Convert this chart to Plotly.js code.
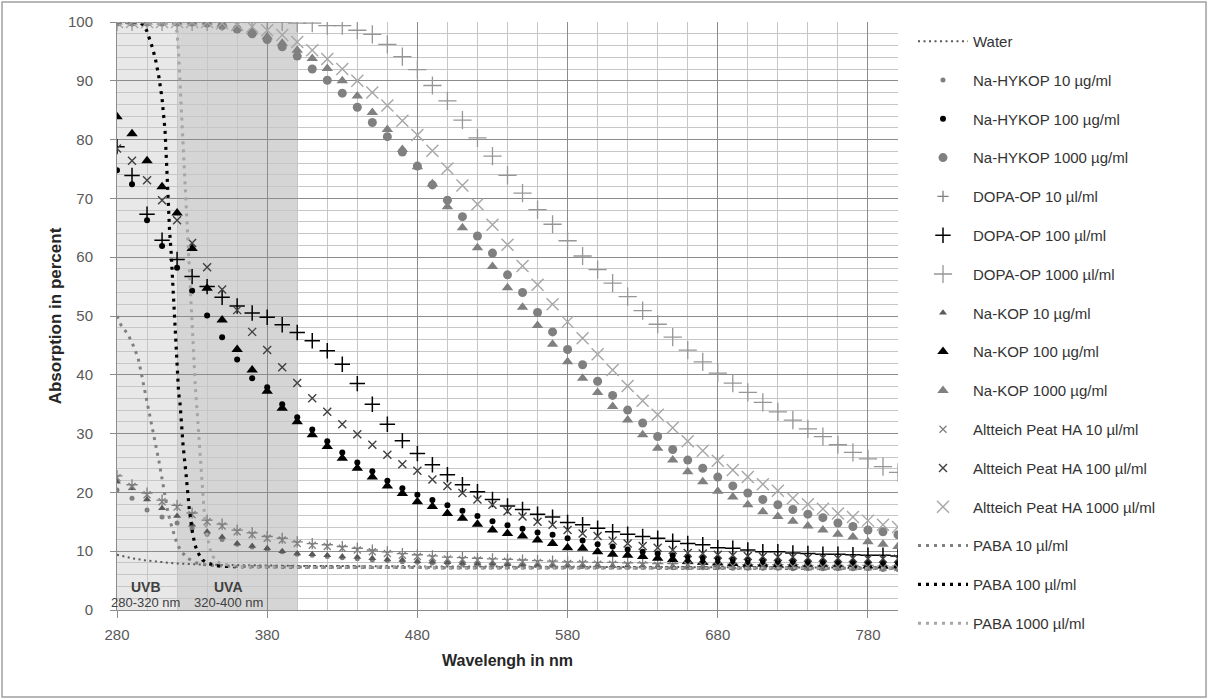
<!DOCTYPE html>
<html><head><meta charset="utf-8">
<script src="https://cdn.plot.ly/plotly-3.0.1.min.js"></script>
<style>html,body{margin:0;padding:0;background:#fff}#chart{width:1211px;height:699px}</style>
</head><body><div id="chart"></div>
<script>
// ---- data ----
const wavelength = [280,290,300,310,320,330,340,350,360,370,380,390,400,410,420,430,440,450,460,470,480,490,500,510,520,530,540,550,560,570,580,590,600,610,620,630,640,650,660,670,680,690,700,710,720,730,740,750,760,770,780,790,800];

const naHykop10 = [20.4,19.0,17.0,15.8,14.8,13.9,12.9,12.0,11.2,10.7,10.3,9.9,9.5,9.3,9.1,8.9,8.7,8.5,8.4,8.2,8.1,8.0,7.9,7.8,7.8,7.7,7.7,7.6,7.6,7.5,7.5,7.4,7.4,7.4,7.3,7.3,7.3,7.2,7.2,7.2,7.2,7.1,7.1,7.1,7.1,7.0,7.0,7.0,7.0,7.0,7.0,6.9,6.9];
const naHykop100 = [74.8,72.4,66.3,61.9,58.2,54.3,50.1,46.4,42.6,39.4,37.9,35.0,32.8,30.7,28.7,26.8,25.1,23.6,22.0,20.7,19.6,18.7,17.8,16.9,16.0,15.1,14.4,13.8,13.2,12.8,12.2,11.8,11.2,10.8,10.3,9.9,9.6,9.3,9.1,8.9,8.7,8.6,8.5,8.4,8.3,8.3,8.2,8.2,8.1,8.1,8.0,8.0,8.0];
const naHykop1000 = [100,100,100,100,100,100,99.8,99.4,98.8,98.0,97.0,95.8,94.2,92.0,90.1,87.9,85.5,82.9,80.5,77.9,75.5,72.3,69.7,66.9,63.6,60.7,57.0,54.0,50.6,47.3,44.3,41.7,38.9,36.5,34.0,31.8,29.5,27.3,25.5,24.1,22.6,21.1,19.9,18.8,17.9,17.1,16.3,15.7,14.8,14.2,13.6,13.3,12.8];

const dopa10 = [22.8,21.3,19.9,18.7,17.8,16.5,15.3,14.6,13.6,13.1,12.5,12.2,11.6,11.3,11.1,10.8,10.5,10.2,9.9,9.6,9.4,9.2,9.0,8.9,8.8,8.7,8.6,8.5,8.4,8.3,8.2,8.2,8.1,8.1,8.0,8.0,7.9,7.9,7.9,7.8,7.8,7.8,7.7,7.7,7.7,7.7,7.6,7.6,7.6,7.6,7.6,7.5,7.5];
const dopa100 = [78.8,73.9,67.3,62.9,59.6,56.7,55.0,53.2,51.7,50.5,49.8,48.5,47.2,45.8,44.1,41.8,38.5,35.0,31.6,28.8,26.6,24.7,23.0,21.3,20.1,18.8,17.7,17.1,16.3,15.8,14.9,14.5,13.9,13.3,12.9,12.5,12.2,11.7,11.3,11.1,10.6,10.5,10.2,9.9,9.9,9.7,9.6,9.5,9.5,9.4,9.3,9.3,9.2];
const dopa1000 = [100,100,100,100,100,100,100,100,100,100,100,100,99.8,99.8,99.4,99.4,98.6,97.9,96.2,94.1,91.9,89.2,86.6,83.3,80.3,77.2,73.9,70.9,68.1,65.6,62.8,60.2,57.9,55.6,53.3,50.9,48.6,46.4,44.2,42.2,40.3,38.6,37.0,35.3,33.7,32.3,30.8,29.5,28.1,26.8,25.7,24.4,23.4];

const naKop10 = [21.8,20.7,18.8,17.3,16.0,14.5,13.3,12.4,11.3,10.9,10.5,10.0,9.6,9.5,9.3,9.1,9.0,8.8,8.6,8.5,8.3,8.2,8.1,8.0,7.9,7.9,7.8,7.8,7.7,7.7,7.6,7.6,7.6,7.5,7.5,7.5,7.4,7.4,7.4,7.4,7.3,7.3,7.3,7.3,7.3,7.2,7.2,7.2,7.2,7.2,7.2,7.2,7.1];
const naKop100 = [83.9,81.0,76.4,72.0,67.5,61.5,54.7,49.3,44.3,40.8,37.2,34.3,32.0,29.8,27.8,25.8,24.1,22.6,21.1,19.8,18.4,17.6,16.4,15.6,14.6,13.6,13.0,12.6,11.9,11.3,10.6,10.5,9.9,9.5,9.3,9.1,8.8,8.6,8.3,8.1,8.0,7.9,7.8,7.8,7.7,7.7,7.6,7.6,7.6,7.5,7.5,7.5,7.5];
const naKop1000 = [100,100,100,100,100,100,100,99.6,99.0,98.3,97.5,96.4,95.2,93.8,92.1,90.0,87.4,84.6,81.7,78.3,75.4,72.5,68.6,65.0,61.6,58.4,54.8,51.5,48.4,45.2,42.2,39.4,37.0,34.6,32.3,29.8,27.5,25.5,23.5,21.8,20.2,19.2,17.9,16.7,15.9,15.1,14.3,13.6,12.9,12.4,11.6,11.2,10.8];

const alt10 = [22.5,21.0,19.6,18.4,17.5,16.2,15.0,14.3,13.3,12.8,12.2,11.9,11.3,11.0,10.8,10.5,10.2,9.9,9.6,9.3,9.1,8.9,8.7,8.6,8.5,8.4,8.3,8.2,8.1,8.0,7.9,7.9,7.8,7.8,7.7,7.7,7.6,7.6,7.6,7.5,7.5,7.5,7.4,7.4,7.4,7.4,7.3,7.3,7.3,7.3,7.3,7.2,7.2];
const alt100 = [78.5,76.4,73.1,69.7,66.3,62.4,58.3,54.5,51.0,47.3,44.2,41.3,38.6,36.0,33.7,31.6,29.9,28.1,26.4,24.8,23.7,22.2,21.1,19.9,18.8,17.9,16.8,15.9,15.0,14.5,13.6,13.0,12.6,11.8,11.3,10.9,10.6,10.2,9.7,9.6,9.4,9.3,9.2,9.1,9.0,9.0,8.9,8.9,8.8,8.8,8.7,8.7,8.7];
const alt1000 = [100,100,100,100,100,100,100,99.8,99.5,99.2,98.6,97.8,96.6,95.2,93.7,92.0,90.0,88.0,85.8,83.2,80.8,78.1,75.1,72.2,69.0,65.5,62.1,58.5,55.3,52.0,49.0,46.2,43.5,40.8,38.1,35.6,33.2,31.0,28.7,27.1,25.4,23.8,22.6,21.4,20.3,19.0,18.0,17.2,16.4,15.8,15.2,14.5,14.1];

const waterX = [280,290,300,310,320,340,360,400,500,600,700,800];
const water  = [9.4,8.8,8.4,8.1,7.9,7.7,7.6,7.5,7.4,7.3,7.2,7.2];

const paba10X = [280,283,287,290,292,294,296,298,300,302,304,306,308,310,312,314,316,318,320,323,327,333,340,360,400,500,600,700,800];
const paba10  = [50,48.3,47,45.5,44.2,42.9,40.5,38,35.5,33,30.3,27.7,25.2,22.3,19.3,16.5,14.6,12.7,11.2,9.9,8.8,8.0,7.6,7.4,7.3,7.2,7.2,7.1,7.1];
const paba100X = [280,290,296,298,300,302,304,306,308,310,312,313,314,315,316,317,318,319,320,321,322,324,326,328,330,332,334,337,340,345,350,400,500,600,700,800];
const paba100  = [100,100,99.8,99.4,98.4,97,95.3,93.2,90.5,87,81.5,76,68.5,64.5,61,56.5,52,47,41.5,37,35,28,23,17.5,13.5,11,9.7,8.5,8.0,7.6,7.4,7.3,7.2,7.2,7.1,7.1];
const paba1000X = [280,300,318,320,321,322,323,324,325,326,327,328,329,330,331,332,333,334,335,336,337,338,339,340,342,344,346,350,360,400,500,600,700,800];
const paba1000  = [100,100,99.8,98.3,94.5,89.5,84,78.8,72.5,69,64,59,54,49,44,38.6,35,31,27.5,24,20.5,17,14.3,12.6,10.3,9.1,8.3,7.8,7.4,7.3,7.2,7.2,7.1,7.1];

const seriesNames = ['Water','Na-HYKOP 10 µg/ml','Na-HYKOP 100 µg/ml','Na-HYKOP 1000 µg/ml','DOPA-OP 10 µl/ml','DOPA-OP 100 µl/ml','DOPA-OP 1000 µl/ml','Na-KOP 10 µg/ml','Na-KOP 100 µg/ml','Na-KOP 1000 µg/ml','Altteich Peat HA 10 µl/ml','Altteich Peat HA 100 µl/ml','Altteich Peat HA 1000 µl/ml','PABA 10 µl/ml','PABA 100 µl/ml','PABA 1000 µl/ml'];

// ---- styling ----
const FONT = 'Liberation Sans, Arial, sans-serif';

function dotted(name, x, y, color, width, dash) {
  return {type:'scatter', mode:'lines', name, legendgroup:name, x, y,
    line:{color, width, dash}, hoverinfo:'x+y+name'};
}
function filled(name, y, symbol, size, color) {
  return {type:'scatter', mode:'markers', name, legendgroup:name, x:wavelength, y,
    marker:{symbol, size, color, line:{width:0}}};
}
function open(name, y, symbol, size, color, lw) {
  return {type:'scatter', mode:'markers', name, legendgroup:name, x:wavelength, y,
    marker:{symbol, size, color, line:{color, width:lw}}};
}

const traces = [
  dotted(seriesNames[0], waterX, water, '#595959', 2, '2px,3.5px'),
  filled(seriesNames[1], naHykop10, 'circle', 5, '#7f7f7f'),
  filled(seriesNames[2], naHykop100, 'circle', 6, '#000000'),
  filled(seriesNames[3], naHykop1000, 'circle', 9, '#808080'),
  open(seriesNames[4], dopa10, 'cross-thin', 8, '#7f7f7f', 1.3),
  open(seriesNames[5], dopa100, 'cross-thin', 11, '#000000', 1.5),
  open(seriesNames[6], dopa1000, 'cross-thin', 13, '#969696', 1.3),
  filled(seriesNames[7], naKop10, 'triangle-up', 7, '#595959'),
  filled(seriesNames[8], naKop100, 'triangle-up', 10, '#000000'),
  filled(seriesNames[9], naKop1000, 'triangle-up', 10, '#808080'),
  open(seriesNames[10], alt10, 'x-thin', 7, '#808080', 1.3),
  open(seriesNames[11], alt100, 'x-thin', 8, '#404040', 1.4),
  open(seriesNames[12], alt1000, 'x-thin', 12, '#a6a6a6', 1.4),
  dotted(seriesNames[13], paba10X, paba10, '#808080', 3, '3px,5px'),
  dotted(seriesNames[14], paba100X, paba100, '#000000', 3.2, '3px,5px'),
  dotted(seriesNames[15], paba1000X, paba1000, '#a6a6a6', 3, '3px,5px')
];

const tickFont = {family:FONT, size:15, color:'#595959'};
const layout = {
  width:1211, height:699,
  paper_bgcolor:'#ffffff', plot_bgcolor:'#ffffff',
  margin:{l:117, r:313, t:22, b:89, autoexpand:false},
  font:{family:FONT, color:'#333333'},
  showlegend:true,
  legend:{x:1.0192, xanchor:'left', y:0.995, yanchor:'top', font:{family:FONT, size:15, color:'#333333'},
          itemwidth:50, tracegroupgap:16.3, maxheight:690, bgcolor:'rgba(0,0,0,0)', borderwidth:0},
  xaxis:{range:[280,800], tick0:280, dtick:100, showgrid:true, gridcolor:'#8c8c8c', gridwidth:1,
         minor:{tick0:280, dtick:20, showgrid:true, gridcolor:'#c6c6c6', gridwidth:1},
         ticks:'outside', ticklen:7, tickcolor:'#8c8c8c', showline:true, linecolor:'#8c8c8c', zeroline:false,
         tickfont:tickFont, ticklabelstandoff:4,
         title:{text:'Wavelengh in nm', font:{family:FONT, size:16, color:'#262626', weight:700}, standoff:12}},
  yaxis:{range:[0,100], tick0:0, dtick:10, showgrid:true, gridcolor:'#8c8c8c', gridwidth:1,
         minor:{dtick:2, showgrid:true, gridcolor:'#c6c6c6', gridwidth:1},
         ticks:'outside', ticklen:6, tickcolor:'#8c8c8c', showline:true, linecolor:'#8c8c8c', zeroline:false,
         tickfont:tickFont, ticklabelstandoff:14,
         title:{text:'Absorption in percent', font:{family:FONT, size:17, color:'#262626', weight:700}, standoff:2}},
  shapes:[
    {type:'rect', xref:'x', yref:'y', x0:280, x1:320, y0:0, y1:100, fillcolor:'#e8e8e8', line:{width:0}, layer:'below'},
    {type:'rect', xref:'x', yref:'y', x0:320, x1:400, y0:0, y1:100, fillcolor:'#d5d5d5', line:{width:0}, layer:'below'},
    {type:'rect', xref:'paper', yref:'paper', x0:-0.1472, x1:1.3944, y0:-0.148, y1:1.034, fillcolor:'rgba(0,0,0,0)', line:{color:'#a0a0a0', width:1.5}, layer:'above'}
  ],
  annotations:[
    {xref:'x', yref:'y', x:299, y:3.9, text:'UVB', showarrow:false, font:{family:FONT, size:14, color:'#404040', weight:700}},
    {xref:'x', yref:'y', x:299, y:1.2, text:'280-320 nm', showarrow:false, font:{family:FONT, size:13, color:'#404040'}},
    {xref:'x', yref:'y', x:354, y:3.9, text:'UVA', showarrow:false, font:{family:FONT, size:14, color:'#404040', weight:700}},
    {xref:'x', yref:'y', x:354, y:1.2, text:'320-400 nm', showarrow:false, font:{family:FONT, size:13, color:'#404040'}}
  ]
};

Plotly.newPlot('chart', traces, layout, {displayModeBar:false, staticPlot:true});
</script>
</body></html>
